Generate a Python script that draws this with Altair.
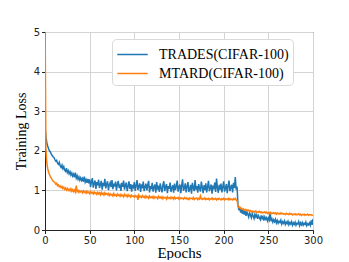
import altair as alt
import pandas as pd

trades = [
    2.62, 2.35, 2.21, 2.12, 2.05, 2.00, 1.97, 1.92, 1.88, 1.85,
    1.83, 1.78, 1.74, 1.76, 1.69, 1.66, 1.71, 1.62, 1.58, 1.64,
    1.55, 1.60, 1.51, 1.48, 1.56, 1.45, 1.50, 1.42, 1.47, 1.39,
    1.44, 1.36, 1.41, 1.33, 1.45, 1.31, 1.37, 1.28, 1.34, 1.26,
    1.32, 1.25, 1.30, 1.22, 1.35, 1.21, 1.27, 1.19, 1.29, 1.18,
    1.28, 1.09, 1.22, 1.31, 1.07, 1.18, 1.25, 1.04, 1.21, 1.13,
    1.27, 1.06, 1.15, 1.24, 1.02, 1.19, 1.11, 1.29, 1.05, 1.16,
    1.23, 1.01, 1.14, 1.20, 1.08, 1.26, 1.03, 1.17, 1.10, 1.22,
    1.00, 1.15, 1.24, 1.06, 1.12, 0.99, 1.19, 1.09, 1.25, 1.02,
    1.13, 1.20, 0.98, 1.11, 1.23, 1.04, 1.16, 0.97, 1.14, 1.08,
    1.21, 0.99, 1.12, 1.26, 1.01, 1.10, 1.18, 0.96, 1.15, 1.05,
    1.22, 0.98, 1.09, 1.17, 1.00, 1.13, 1.24, 0.95, 1.11, 1.03,
    1.19, 0.97, 1.08, 1.15, 0.94, 1.21, 1.02, 1.12, 0.96, 1.18,
    1.06, 0.95, 1.14, 1.23, 0.98, 1.09, 1.16, 0.93, 1.11, 1.04,
    1.20, 0.96, 1.07, 1.13, 0.94, 1.17, 1.01, 1.10, 1.25, 0.97,
    1.08, 1.15, 0.93, 1.12, 1.28, 0.99, 1.06, 1.18, 0.95, 1.10,
    1.21, 0.96, 1.04, 1.14, 0.92, 1.19, 1.07, 0.98, 1.26, 1.02,
    1.11, 0.94, 1.16, 1.05, 0.97, 1.22, 1.08, 0.93, 1.13, 1.01,
    1.18, 0.95, 1.09, 1.24, 0.98, 1.06, 1.15, 0.92, 1.12, 1.03,
    1.20, 0.96, 1.30, 1.07, 0.94, 1.14, 1.02, 1.17, 0.95, 1.09,
    1.23, 0.97, 1.05, 1.16, 0.93, 1.11, 1.25, 0.98, 1.08, 1.14,
    0.95, 1.19, 1.06, 1.34, 1.02, 1.10,
    0.64, 0.50, 0.57, 0.44,
    0.54, 0.41, 0.50, 0.39, 0.48, 0.36, 0.46, 0.40, 0.33, 0.44,
    0.37, 0.31, 0.42, 0.35, 0.29, 0.40, 0.33, 0.38, 0.28, 0.36,
    0.31, 0.26, 0.37, 0.29, 0.34, 0.24, 0.33, 0.27, 0.31, 0.23,
    0.30, 0.25, 0.45, 0.22, 0.28, 0.20, 0.26, 0.21, 0.27, 0.18,
    0.24, 0.17, 0.22, 0.19, 0.25, 0.15, 0.21, 0.17, 0.23, 0.14,
    0.20, 0.16, 0.22, 0.13, 0.19, 0.15, 0.21, 0.12, 0.18, 0.14,
    0.20, 0.12, 0.17, 0.15, 0.21, 0.11, 0.18, 0.13, 0.19, 0.12,
    0.17, 0.14, 0.20, 0.11, 0.16, 0.13, 0.18, 0.12, 0.24, 0.13,
    0.28,
]

mtard = [
    5.60, 2.05, 1.70, 1.55, 1.46, 1.40, 1.35, 1.31, 1.27, 1.24,
    1.22, 1.20, 1.16, 1.18, 1.12, 1.14, 1.09, 1.11, 1.07, 1.10,
    1.05, 1.08, 1.03, 1.06, 1.01, 1.05, 1.00, 1.03, 0.99, 1.04,
    0.98, 1.02, 0.97, 1.01, 0.96, 1.12, 0.97, 1.00, 0.95, 0.99,
    0.96, 0.98, 0.94, 0.99, 0.95, 0.97, 0.93, 0.98, 0.94, 0.96,
    0.92, 0.97, 0.93, 0.95, 0.91, 0.96, 0.92, 0.94, 0.90, 0.95,
    0.91, 0.94, 0.89, 0.95, 0.90, 0.93, 0.88, 0.94, 0.90, 0.92,
    0.89, 0.92, 0.87, 0.91, 0.88, 0.90, 0.86, 0.92, 0.87, 0.89,
    0.86, 0.91, 0.87, 0.89, 0.85, 0.90, 0.86, 0.88, 0.84, 0.90,
    0.86, 0.88, 0.84, 0.89, 0.85, 0.87, 0.83, 0.88, 0.85, 0.86,
    0.83, 0.87, 0.84, 0.86, 0.76, 0.88, 0.83, 0.85, 0.82, 0.87,
    0.83, 0.85, 0.81, 0.86, 0.82, 0.84, 0.80, 0.86, 0.82, 0.84,
    0.81, 0.85, 0.80, 0.84, 0.82, 0.83, 0.79, 0.85, 0.81, 0.83,
    0.80, 0.84, 0.79, 0.83, 0.81, 0.82, 0.78, 0.84, 0.80, 0.82,
    0.79, 0.83, 0.80, 0.82, 0.78, 0.83, 0.79, 0.81, 0.80, 0.82,
    0.78, 0.82, 0.79, 0.81, 0.80, 0.78, 0.82, 0.79, 0.81, 0.78,
    0.80, 0.77, 0.81, 0.79, 0.80, 0.78, 0.82, 0.77, 0.80, 0.79,
    0.81, 0.77, 0.80, 0.78, 0.86, 0.79, 0.77, 0.80, 0.78, 0.81,
    0.77, 0.79, 0.78, 0.80, 0.76, 0.79, 0.78, 0.81, 0.77, 0.79,
    0.78, 0.80, 0.76, 0.79, 0.77, 0.80, 0.78, 0.76, 0.79, 0.77,
    0.80, 0.76, 0.79, 0.78, 0.77, 0.80, 0.76, 0.79, 0.77, 0.78,
    0.76, 0.79, 0.77, 0.80, 0.76, 0.74,
    0.62, 0.57, 0.58, 0.54,
    0.55, 0.52, 0.53, 0.50, 0.52, 0.49, 0.51, 0.48, 0.50, 0.47,
    0.49, 0.46, 0.48, 0.45, 0.47, 0.46, 0.48, 0.44, 0.46, 0.45,
    0.47, 0.44, 0.46, 0.43, 0.45, 0.44, 0.46, 0.43, 0.45, 0.42,
    0.44, 0.42, 0.45, 0.41, 0.43, 0.42, 0.44, 0.41, 0.43, 0.40,
    0.43, 0.41, 0.42, 0.40, 0.43, 0.41, 0.42, 0.40, 0.41, 0.39,
    0.42, 0.40, 0.41, 0.39, 0.42, 0.40, 0.41, 0.38, 0.40, 0.39,
    0.41, 0.38, 0.40, 0.39, 0.41, 0.38, 0.40, 0.37, 0.39, 0.38,
    0.40, 0.37, 0.39, 0.38, 0.40, 0.37, 0.39, 0.38, 0.39, 0.37,
    0.38,
]

series_names = ["TRADES(CIFAR-100)", "MTARD(CIFAR-100)"]
series_colors = ["#1f77b4", "#ff7f0e"]
x_ticks = [0, 50, 100, 150, 200, 250, 300]
y_ticks = [0, 1, 2, 3, 4, 5]

df_t = pd.DataFrame({"epoch": list(range(len(trades))), "loss": trades, "series": series_names[0]})
df_m = pd.DataFrame({"epoch": list(range(len(mtard))), "loss": mtard, "series": series_names[1]})

color = alt.Color(
    "series:N",
    scale=alt.Scale(domain=series_names, range=series_colors),
    legend=alt.Legend(
        title=None,
        orient="none",
        legendX=67,
        legendY=7,
        symbolType="M-1.45,0L1.45,0",
        symbolSize=441,
        symbolStrokeWidth=1.5,
        symbolOffset=5,
        labelOffset=15,
        labelFont="Liberation Serif",
        labelFontSize=14,
        labelColor="#000",
        rowPadding=0,
        padding=4,
        strokeColor="#d9d9d9",
        fillColor="white",
        cornerRadius=4,
        labelLimit=300,
    ),
)

x = alt.X(
    "epoch:Q",
    scale=alt.Scale(domain=[0, 300], nice=False),
    axis=alt.Axis(values=x_ticks, title="Epochs", format="d", labelFlush=False),
)
y = alt.Y(
    "loss:Q",
    scale=alt.Scale(domain=[0, 5], nice=False),
    axis=alt.Axis(values=y_ticks, title="Training Loss", format="d", labelFlush=False),
)

line_t = alt.Chart(df_t).mark_line(strokeWidth=1.5, clip=True).encode(x=x, y=y, color=color)
line_m = alt.Chart(df_m).mark_line(strokeWidth=1.5, clip=True).encode(x=x, y=y, color=color)

chart = (
    alt.layer(line_t, line_m)
    .properties(
        width=268,
        height=198,
        autosize=alt.AutoSizeParams(type="none"),
        padding={"left": 37, "top": 24, "right": 10, "bottom": 30},
    )
    .configure_view(stroke="#222", strokeWidth=1)
    .configure_axis(
        grid=True,
        gridColor="#d4d4d4",
        gridWidth=1,
        domainColor="#222",
        tickColor="#222",
        tickSize=3.5,
        labelFont="DejaVu Sans",
        labelFontSize=10,
        labelColor="#222",
        labelPadding=2,
        titleFont="Liberation Serif",
        titleFontSize=15,
        titleFontWeight="normal",
        titleColor="#000",
    )
    .configure_axisY(titlePadding=5, titleFontSize=14)
    .configure_axisX(titlePadding=0)
)

chart.save("out.html", embed_options={"renderer": "svg", "actions": False})
